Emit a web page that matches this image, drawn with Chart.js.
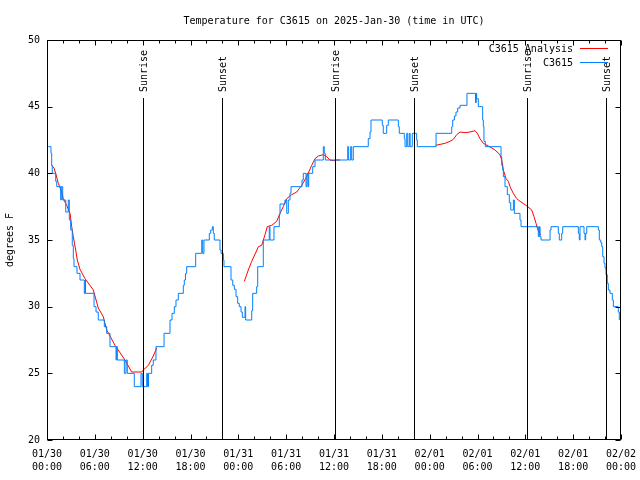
<!DOCTYPE html>
<html>
<head>
<meta charset="utf-8">
<script src="https://cdn.jsdelivr.net/npm/chart.js@4.4.1/dist/chart.umd.min.js"></script>
<style>
  html, body { margin: 0; padding: 0; background: #fff; }
</style>
</head>
<body>
<canvas id="tempChart" width="640" height="480"></canvas>
<script>
const MONO = '"DejaVu Sans Mono", "Liberation Mono", monospace';

// x values are hours since 01/30 00:00 UTC
const xDays  = ['01/30', '01/30', '01/30', '01/30', '01/31', '01/31', '01/31', '01/31', '02/01', '02/01', '02/01', '02/01', '02/02'];
const xTimes = ['00:00', '06:00', '12:00', '18:00', '00:00', '06:00', '12:00', '18:00', '00:00', '06:00', '12:00', '18:00', '00:00'];

const sunrise = [12.05, 36.1, 60.2];
const sunset  = [21.95, 46.05, 70.12];

// [hour, degrees F], null = no analysis
const analysis = [
  [0.59, 40.6], [0.88, 40.4], [1.09, 40], [1.42, 39.25], [1.84, 38.6], [2.04, 38.1],
  [2.47, 37.6], [2.89, 37], [3.10, 36], [3.30, 35.25], [3.60, 34.25], [3.80, 33.5],
  [4.14, 32.8], [4.77, 32.1], [5.81, 31.25], [6.43, 29.9], [7.06, 29.25], [7.49, 28.25],
  [8.53, 27.1], [9.78, 26], [10.62, 25.1], [11.88, 25.1], [12.08, 25.25], [12.71, 25.6],
  [13.33, 26.3], [13.76, 26.9], [14.2, null],
  [24.75, 31.9], [25.25, 32.75], [25.68, 33.4], [26.22, 34.1], [26.51, 34.5], [26.93, 34.6],
  [27.35, 35.4], [27.63, 36], [28.19, 36.1], [28.81, 36.4], [29.23, 37], [29.64, 37.5],
  [30.07, 38.1], [30.69, 38.4], [31.32, 38.6], [31.95, 39.1], [32.58, 39.75], [33.2, 40.6],
  [33.62, 41.1], [34.03, 41.3], [34.66, 41.4], [35.08, 41.25], [35.5, 41], [35.91, 40.95],
  [36.34, 41], [36.75, 41], [37.2, null],
  [48.76, 42.1], [49.92, 42.25], [50.55, 42.4], [50.97, 42.55], [51.39, 42.9], [51.81, 43.1],
  [52.43, 43.05], [53.06, 43.1], [53.69, 43.2], [53.98, 43], [54.31, 42.6], [54.73, 42.25],
  [55.36, 42.05], [56.2, 41.75], [56.82, 41.4], [57.04, 41], [57.24, 40.25], [57.58, 39.6],
  [57.87, 39.4], [58.08, 39], [58.49, 38.5], [58.92, 38.1], [59.33, 37.9], [60.08, 37.6],
  [60.8, 37.25], [61.09, 36.75], [61.34, 36.25], [61.5, 35.9], [61.75, 35.5], [61.97, 35.4]
];

// [hour, degrees F], each point is where the reading changes
const observed = [
  [0.16, 42], [0.50, 41.5], [0.59, 40.6], [0.66, 40], [1.09, 39.4], [1.22, 39], [1.72, 38],
  [1.79, 39], [1.97, 38], [2.35, 37.1], [2.67, 38], [2.80, 36.5], [2.97, 35.75], [3.17, 34.6],
  [3.30, 33.6], [3.39, 33], [3.76, 32.5], [4.14, 32], [4.68, 31], [4.77, 32], [4.83, 31],
  [5.90, 30], [6.15, 29.6], [6.43, 29], [7.19, 28.5], [7.49, 28], [7.90, 27], [8.66, 26],
  [8.74, 27], [8.82, 26], [9.70, 25], [9.91, 26], [10.07, 25], [10.95, 24], [11.79, 25],
  [11.95, 24], [12.51, 25], [12.61, 24], [12.73, 25], [13.13, 25.6], [13.33, 26], [13.67, 27],
  [14.68, 28], [15.43, 29], [15.68, 29.5], [15.97, 30], [16.18, 30.5], [16.47, 31], [17.10, 31.6],
  [17.22, 32], [17.37, 32.5], [17.52, 33], [18.65, 34], [19.41, 35], [19.53, 34], [19.69, 35],
  [20.36, 35.5], [20.53, 35.75], [20.74, 36], [20.86, 35.5], [20.98, 35], [21.70, 34.25],
  [21.83, 34], [22.12, 33.5], [22.20, 33], [23.08, 32], [23.30, 31.6], [23.50, 31.3],
  [23.71, 30.75], [23.92, 30.25], [24.12, 30], [24.34, 29.6], [24.50, 29.2], [24.84, 30],
  [24.92, 29], [25.68, 29.7], [25.80, 31], [26.30, 31.5], [26.43, 33], [27.13, 35], [27.88, 36],
  [27.97, 35], [28.47, 36], [29.14, 36.9], [29.23, 37.7], [29.85, 38], [30.07, 37], [30.27, 38],
  [30.48, 38.5], [30.61, 39], [31.99, 39.5], [32.15, 40], [32.49, 39], [32.61, 40], [32.74, 39],
  [32.83, 40], [33.33, 40.5], [33.62, 41], [34.66, 42], [34.78, 41.5], [34.91, 41], [37.72, 42],
  [37.84, 41], [38.09, 42], [38.22, 41], [38.42, 42], [40.30, 42.6], [40.52, 43.1], [40.64, 44],
  [42.06, 43.6], [42.18, 43], [42.61, 43.6], [42.81, 44], [44.07, 43.5], [44.19, 43], [44.82, 42.6],
  [44.91, 42], [45.12, 43], [45.25, 42], [45.45, 43], [45.55, 42], [45.82, 43], [46.37, 42.5],
  [46.45, 42], [48.80, 43], [50.77, 43.5], [50.89, 44], [51.10, 44.3], [51.30, 44.6], [51.52, 44.9],
  [51.81, 45.1], [52.68, 46], [53.75, 45.3], [53.85, 46], [53.90, 45.6], [54.10, 45], [54.65, 44],
  [54.73, 43.5], [54.81, 42.4], [54.98, 42], [56.95, 41.25], [57.04, 40.6], [57.16, 40.25],
  [57.24, 39.75], [57.45, 39], [57.74, 38.4], [57.99, 37.8], [58.17, 37.25], [58.50, 38],
  [58.62, 37], [59.33, 36.5], [59.46, 36], [61.63, 35.25], [61.76, 36], [61.85, 35.25], [61.97, 35],
  [63.10, 35.75], [63.22, 36], [64.14, 35.5], [64.26, 35], [64.56, 35.5], [64.69, 36], [66.65, 35.5],
  [66.77, 35], [66.86, 36], [67.36, 35.5], [67.49, 35], [67.57, 35.5], [67.70, 36], [69.16, 35.75],
  [69.28, 35], [69.46, 34.8], [69.58, 34.5], [69.71, 33.75], [69.87, 33.25], [69.99, 32.9],
  [70.12, 32.4], [70.28, 31.75], [70.41, 31.25], [70.62, 31], [70.91, 30.5], [71.04, 30],
  [71.66, 29.6], [71.79, 29]
];

const RED = '#ff0000';
const BLUE = '#0080ff';

// gnuplot look: frame, inward ticks, sun markers, key in the corner
const gnuplotFrame = {
  id: 'gnuplotFrame',
  afterDatasetsDraw(chart) {
    const { ctx, chartArea: a, scales: { x, y } } = chart;
    const snap = v => Math.round(v) + 0.5;
    const L = snap(a.left), R = snap(a.right - 1), T = snap(a.top), B = snap(a.bottom - 1);
    ctx.save();
    ctx.strokeStyle = '#000';
    ctx.lineWidth = 1;

    // sunrise / sunset lines
    ctx.font = '10px ' + MONO;
    ctx.fillStyle = '#000';
    const marks = sunrise.map(h => [h, 'Sunrise']).concat(sunset.map(h => [h, 'Sunset']));
    marks.forEach(([h, label]) => {
      const px = snap(x.getPixelForValue(h));
      ctx.beginPath();
      ctx.moveTo(px, a.top + 58);
      ctx.lineTo(px, B);
      ctx.stroke();
      ctx.save();
      ctx.translate(px + 0.5, a.top + 52);
      ctx.rotate(-Math.PI / 2);
      ctx.textAlign = 'left';
      ctx.textBaseline = 'middle';
      ctx.fillText(label, 0, 0);
      ctx.restore();
    });

    // border
    ctx.strokeRect(L, T, R - L, B - T);

    // ticks pointing inward, mirrored
    ctx.beginPath();
    x.ticks.forEach(t => {
      const px = snap(x.getPixelForValue(t.value));
      const len = t.value % 6 === 0 ? 5 : 3;
      ctx.moveTo(px, B); ctx.lineTo(px, B - len);
      ctx.moveTo(px, T); ctx.lineTo(px, T + len);
    });
    y.ticks.forEach(t => {
      const py = snap(y.getPixelForValue(t.value));
      ctx.moveTo(L, py); ctx.lineTo(L + 5, py);
      ctx.moveTo(R, py); ctx.lineTo(R - 5, py);
    });
    ctx.stroke();

    // key
    const keyText = a.right - 48, keyL = a.right - 41, keyR = a.right - 13;
    ctx.textAlign = 'right';
    ctx.textBaseline = 'middle';
    chart.data.datasets.slice().reverse().forEach((ds, i) => {
      const ky = a.top + 9 + i * 14;
      ctx.fillStyle = '#000';
      ctx.fillText(ds.label, keyText, ky);
      ctx.strokeStyle = ds.borderColor;
      ctx.beginPath();
      ctx.moveTo(keyL, snap(ky - 1));
      ctx.lineTo(keyR, snap(ky - 1));
      ctx.stroke();
    });
    ctx.restore();
  }
};

new Chart(document.getElementById('tempChart').getContext('2d'), {
  type: 'line',
  data: {
    datasets: [{
      label: 'C3615',
      data: observed.map(p => ({ x: p[0], y: p[1] })),
      borderColor: BLUE,
      borderWidth: 1,
      pointRadius: 0,
      stepped: 'before',
      fill: false
    }, {
      label: 'C3615 Analysis',
      data: analysis.map(p => ({ x: p[0], y: p[1] })),
      borderColor: RED,
      borderWidth: 1,
      pointRadius: 0,
      tension: 0,
      fill: false
    }]
  },
  options: {
    responsive: false,
    animation: false,
    events: [],
    layout: { padding: { top: 0, right: 19, bottom: 0, left: 0 } },
    plugins: {
      legend: { display: false },
      tooltip: { enabled: false },
      title: {
        display: true,
        fullSize: false,
        text: 'Temperature for C3615 on 2025-Jan-30 (time in UTC)',
        color: '#000',
        font: { family: MONO, size: 10, weight: 'normal', lineHeight: 1.2 },
        padding: { top: 15, bottom: 13 }
      }
    },
    scales: {
      x: {
        type: 'linear',
        min: 0,
        max: 72,
        grid: { display: false, drawTicks: false, tickLength: 0 },
        border: { display: false },
        ticks: {
          stepSize: 2,
          autoSkip: false,
          maxRotation: 0,
          padding: 8,
          color: '#000',
          font: { family: MONO, size: 10, lineHeight: 1.3 },
          callback: v => (v % 6 === 0 ? [xDays[v / 6], xTimes[v / 6]] : '')
        },
        afterFit: s => {
          s.height = 40;
          s.paddingLeft = 0;
          s.paddingRight = 0;
        }
      },
      y: {
        min: 20,
        max: 50,
        grid: { display: false, drawTicks: false, tickLength: 0 },
        border: { display: false },
        ticks: {
          stepSize: 5,
          padding: 7,
          color: '#000',
          font: { family: MONO, size: 10 }
        },
        title: {
          display: true,
          text: 'degrees F',
          color: '#000',
          font: { family: MONO, size: 10, lineHeight: 1.2 },
          padding: { top: 4, bottom: 0 }
        },
        afterFit: s => { s.width = 47; }
      }
    }
  },
  plugins: [gnuplotFrame]
});
</script>
</body>
</html>
